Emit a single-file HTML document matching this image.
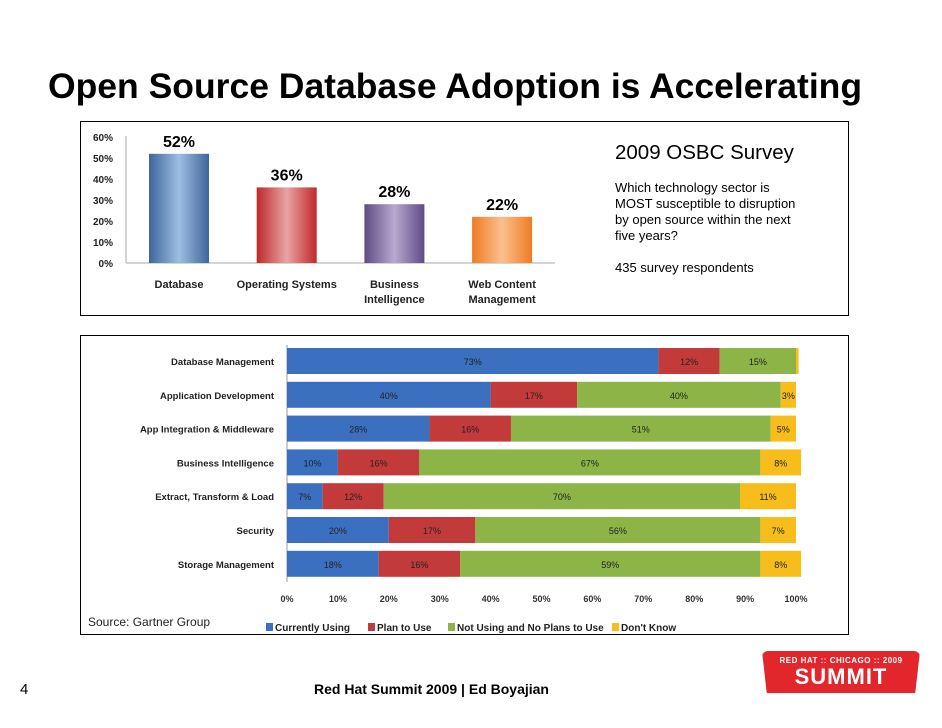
<!DOCTYPE html>
<html><head><meta charset="utf-8"><style>
body{margin:0;width:942px;height:728px;background:#fff;position:relative;font-family:"Liberation Sans",sans-serif;overflow:hidden}
.abs{position:absolute}
</style></head><body>
<div class="abs" style="left:48px;top:66px;font-size:35.5px;font-weight:bold;color:#000;white-space:nowrap">Open Source Database Adoption is Accelerating</div>
<div class="abs" style="left:80px;top:121px;width:767px;height:193px;border:1px solid #000"></div>
<div class="abs" style="left:80px;top:335px;width:767px;height:298px;border:1px solid #000"></div>
<div class="abs" style="left:615px;top:141px;font-size:20.5px">2009 OSBC Survey</div>
<div class="abs" style="left:615px;top:180px;font-size:13px;line-height:16px;white-space:nowrap">Which technology sector is<br>MOST susceptible to disruption<br>by open source within the next<br>five years?</div>
<div class="abs" style="left:615px;top:260px;font-size:13px">435 survey respondents</div>
<div class="abs" style="left:88px;top:615px;font-size:12px;color:#222">Source: Gartner Group</div>
<div class="abs" style="left:20px;top:681px;font-size:15px">4</div>
<div class="abs" style="left:314px;top:681px;font-size:14px;font-weight:bold">Red Hat Summit 2009 | Ed Boyajian</div>
<div class="abs" style="left:762px;top:651px;width:158px;height:42px;background:#e3262b;border-radius:6px;clip-path:polygon(0 0,100% 0,97% 100%,3% 100%);color:#fff;text-align:center">
<div style="font-size:8px;font-weight:bold;margin-top:5px;letter-spacing:.5px">RED HAT :: CHICAGO :: 2009</div>
<div style="font-size:22px;font-weight:bold;line-height:24px;letter-spacing:1px">SUMMIT</div></div>

<svg class="abs" style="left:0;top:0" width="942" height="728">
<defs>
<linearGradient id="gb" x1="0" x2="1"><stop offset="0" stop-color="#3f659a"/><stop offset=".5" stop-color="#9dbde3"/><stop offset="1" stop-color="#3f659a"/></linearGradient>
<linearGradient id="gr" x1="0" x2="1"><stop offset="0" stop-color="#c0282b"/><stop offset=".5" stop-color="#e9a3a3"/><stop offset="1" stop-color="#c0282b"/></linearGradient>
<linearGradient id="gp" x1="0" x2="1"><stop offset="0" stop-color="#5f4b85"/><stop offset=".5" stop-color="#b7a9cf"/><stop offset="1" stop-color="#5f4b85"/></linearGradient>
<linearGradient id="go" x1="0" x2="1"><stop offset="0" stop-color="#ef7b22"/><stop offset=".5" stop-color="#fbc08f"/><stop offset="1" stop-color="#ef7b22"/></linearGradient>
</defs>
<g id="top"></g><g id="bot"></g>
</svg>
<script>
const topCats=[["Database"],["Operating Systems"],["Business","Intelligence"],["Web Content","Management"]];
const topVals=[52,36,28,22];
const topTicks=[0,10,20,30,40,50,60];
const botCats=["Database Management","Application Development","App Integration & Middleware","Business Intelligence","Extract, Transform & Load","Security","Storage Management"];
const curUsing=[73,40,28,10,7,20,18];
const planUse=[12,17,16,16,12,17,16];
const notUsing=[15,40,51,67,70,56,59];
const dontKnow=[0.5,3,5,8,11,7,8];
const botTicks=[0,10,20,30,40,50,60,70,80,90,100];
const seriesNames=["Currently Using","Plan to Use","Not Using and No Plans to Use","Don't Know"];

const NS="http://www.w3.org/2000/svg";
function mk(p,t,a,txt){const e=document.createElementNS(NS,t);for(const k in a)e.setAttribute(k,a[k]);if(txt!=null)e.textContent=txt;p.appendChild(e);return e;}
const F="Liberation Sans, sans-serif";
const T=document.getElementById('top');
const ty=v=>263-v*2.1, tx=i=>149+i*107.7;
mk(T,'line',{x1:126,y1:136,x2:126,y2:263,stroke:'#aaa'});
mk(T,'line',{x1:126,y1:263,x2:555,y2:263,stroke:'#aaa'});
topTicks.forEach(v=>{const t=mk(T,'text',{x:113,y:ty(v)+4,'text-anchor':'end','font-size':10,'font-weight':'bold','font-family':F,fill:'#222'},v+'%');

});
const grads=['url(#gb)','url(#gr)','url(#gp)','url(#go)'];
topVals.forEach((v,i)=>{
 const r=mk(T,'rect',{x:tx(i),y:ty(v),width:60,height:v*2.1,fill:grads[i]});
 
 
 const l=mk(T,'text',{x:tx(i)+30,y:ty(v)-7,'text-anchor':'middle','font-size':16,'font-weight':'bold','font-family':F},v+'%');
 
 
 topCats[i].forEach((s,j)=>{const c=mk(T,'text',{x:tx(i)+30,y:288+j*15,'text-anchor':'middle','font-size':11,'font-weight':'bold','font-family':F,fill:'#222'},s);
 
 });
});
const B=document.getElementById('bot');
const bx=v=>287+v*5.09, by=i=>361+i*33.8;
const cols=['#3b6fc0','#c33a3a','#8cb446','#f7bd1a'];
const series=[curUsing,planUse,notUsing,dontKnow];
mk(B,'line',{x1:287,y1:345,x2:287,y2:582,stroke:'#999'});
botTicks.forEach(v=>{const t=mk(B,'text',{x:bx(v),y:602,'text-anchor':'middle','font-size':9,'font-weight':'bold','font-family':F,fill:'#333'},v+'%');

});
botCats.forEach((c,i)=>{
 const t=mk(B,'text',{x:274,y:by(i)+4,'text-anchor':'end','font-size':9.5,'font-weight':'bold','font-family':F,fill:'#222'},c);
 
 
 let acc=0;
 series.forEach((s,k)=>{
  const v=s[i];
  const r=mk(B,'rect',{x:bx(acc),y:by(i)-13,width:v*5.09,height:26,fill:cols[k]});
  
  
  if(v>=2){const l=mk(B,'text',{x:bx(acc+v/2),y:by(i)+4,'text-anchor':'middle','font-size':9,'font-family':F,fill:'#222'},v+'%');
  
  }
  acc+=v;
 });
});
const lx=[266,368,448,612];
seriesNames.forEach((n,k)=>{
 const r=mk(B,'rect',{x:lx[k],y:623,width:7,height:8,fill:cols[k]});
 
 
 const t=mk(B,'text',{x:lx[k]+9,y:631,'font-size':10,'font-weight':'bold','font-family':F,fill:'#222'},n);
 
 
});
</script>
</body></html>
